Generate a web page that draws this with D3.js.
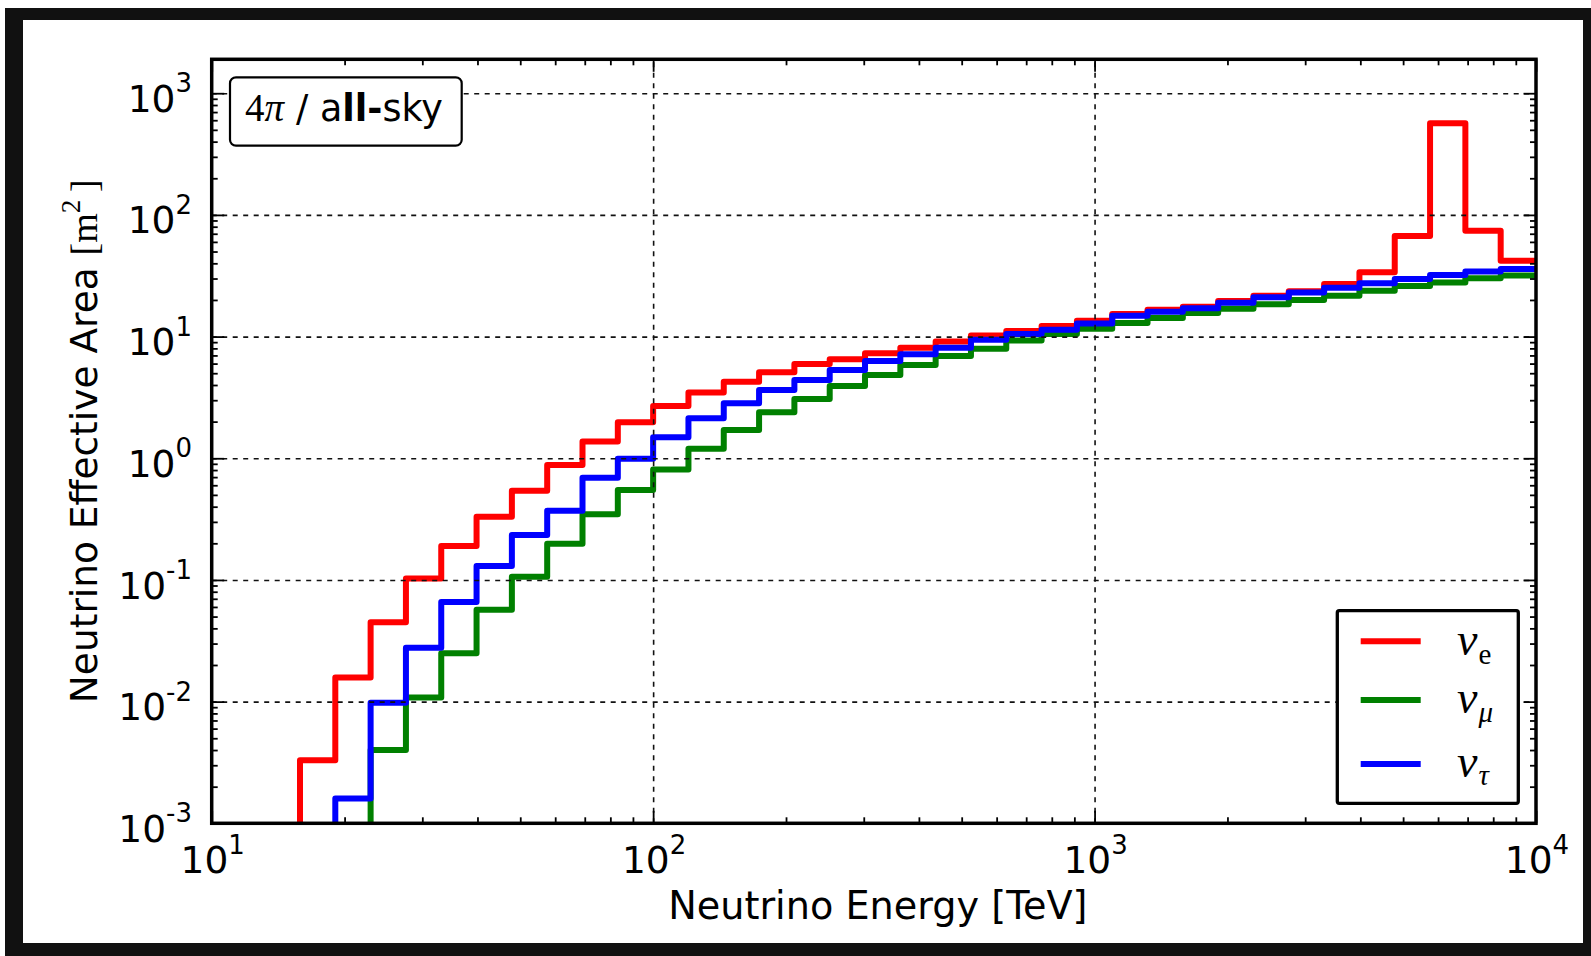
<!DOCTYPE html>
<html>
<head>
<meta charset="utf-8">
<script src="https://cdn.jsdelivr.net/npm/d3@7"></script>
<style>
  html, body { margin: 0; padding: 0; background: #fff; }
  svg { display: block; }
</style>
</head>
<body>
<svg id="chart" width="1591" height="956"></svg>
<script>
// Energy bin edges as log10(E / TeV)
const binEdgesLog10 = [1.20, 1.28, 1.36, 1.44, 1.52, 1.60, 1.68, 1.76, 1.84, 1.92,
                       2.00, 2.08, 2.16, 2.24, 2.32, 2.40, 2.48, 2.56, 2.64, 2.72,
                       2.80, 2.88, 2.96, 3.04, 3.12, 3.20, 3.28, 3.36, 3.44, 3.52,
                       3.60, 3.68, 3.76, 3.84, 3.92, 4.00];

// Effective area per bin [m^2]; null = below the plotted range
const areaNuE = [0.0033, 0.0158, 0.045, 0.103, 0.19, 0.33, 0.54, 0.88, 1.37, 1.98,
                 2.69, 3.47, 4.26, 5.09, 5.96, 6.51, 7.3, 8.1, 9.1, 10.2,
                 11.1, 12.2, 13.5, 15.3, 16.6, 17.6, 19.6, 21.7, 23.6, 27.1,
                 33.8, 67, 567, 74, 42];
const areaNuMu = [null, null, 0.0040, 0.0108, 0.025, 0.057, 0.106, 0.198, 0.347, 0.548,
                  0.81, 1.20, 1.71, 2.39, 3.07, 3.93, 4.84, 5.85, 6.93, 7.96,
                  9.27, 10.5, 11.6, 12.9, 14.2, 15.6, 16.9, 18.4, 20.0, 21.7,
                  23.8, 26.1, 27.8, 30.1, 31.8];
const areaNuTau = [null, 0.0016, 0.0098, 0.0277, 0.066, 0.130, 0.234, 0.371, 0.69, 0.99,
                   1.49, 2.13, 2.83, 3.64, 4.40, 5.32, 6.3, 7.16, 8.1, 9.4,
                   10.5, 11.4, 12.8, 14.8, 16.0, 17.1, 19.0, 21.0, 23.0, 25.2,
                   27.4, 29.8, 32.1, 34.2, 36.0];

const flavourSubscripts = ["e", "μ", "τ"];
const xTickExponents = [1, 2, 3, 4];
const yTickExponents = [-3, -2, -1, 0, 1, 2, 3];
const xAxisTitle = "Neutrino Energy [TeV]";
const yAxisTitle = "Neutrino Effective Area ";
const regionLabel = ["4", "π", "/ a", "ll-", "sky"];

// ---- styling / layout ----
const colors = ["#ff0000", "#008000", "#0000ff"];
const SANS = "'DejaVu Sans', sans-serif";
const SERIF = "'Liberation Serif', 'DejaVu Serif', serif";
const L = 211.7, R = 1536, T = 59.3, B = 823.3;

const svg = d3.select("#chart");

// page background and dark frame
svg.append("rect").attr("width", 1591).attr("height", 956).attr("fill", "#fff");
svg.append("path")
  .attr("d", "M5,8H1591V956H5Z M23,20V943H1583V20Z")
  .attr("fill", "#111").attr("fill-rule", "evenodd");

const x = d3.scaleLog().domain([10, 1e4]).range([L, R]);
const y = d3.scaleLog().domain([1e-3, 1.9e3]).range([B, T]);

svg.append("defs").append("clipPath").attr("id", "plotClip")
  .append("rect").attr("x", L).attr("y", T).attr("width", R - L).attr("height", B - T);

// ---- step histograms ----
const edges = binEdgesLog10.map(e => Math.pow(10, e));
function stepPoints(vals) {
  const first = vals.findIndex(v => v != null);
  const pts = [[edges[first], y.domain()[0]]];
  for (let i = first; i < vals.length; i++) pts.push([edges[i], vals[i]]);
  pts.push([edges[vals.length], vals[vals.length - 1]]);
  return pts;
}
const stepLine = d3.line().x(d => x(d[0])).y(d => y(d[1])).curve(d3.curveStepAfter);

const lines = svg.append("g").attr("clip-path", "url(#plotClip)");
[areaNuE, areaNuMu, areaNuTau].forEach((vals, i) => {
  lines.append("path")
    .attr("d", stepLine(stepPoints(vals)))
    .attr("fill", "none")
    .attr("stroke", colors[i])
    .attr("stroke-width", 6)
    .attr("stroke-linejoin", "round");
});

// ---- grid (drawn above the curves) ----
const xMajor = xTickExponents.map(e => Math.pow(10, e));
const yMajor = yTickExponents.map(e => Math.pow(10, e));
const gridX = xMajor.filter(v => v > x.domain()[0] && v < x.domain()[1]);
const gridY = yMajor.filter(v => v > y.domain()[0] && v < y.domain()[1]);

const gx = svg.append("g").attr("transform", `translate(0,${B})`)
  .call(d3.axisBottom(x).tickValues(gridX).tickSize(-(B - T)).tickFormat(""));
const gy = svg.append("g").attr("transform", `translate(${L},0)`)
  .call(d3.axisLeft(y).tickValues(gridY).tickSize(-(R - L)).tickFormat(""));
[gx, gy].forEach(g => {
  g.select(".domain").remove();
  g.selectAll("line").attr("stroke", "#111").attr("stroke-width", 1.6)
    .attr("stroke-dasharray", "5,5.5");
});

// ---- ticks on all four sides, pointing inward ----
function minorTicks(lo, hi) {
  const out = [];
  for (let d = lo; d < hi; d++) for (let m = 2; m <= 9; m++) out.push(m * Math.pow(10, d));
  return out;
}
const xMinor = minorTicks(1, 4);
const yMinor = minorTicks(-3, 4).filter(v => v < y.domain()[1]);

function tickGroup(axisFn, scale, values, size, transform) {
  const g = svg.append("g").attr("transform", transform)
    .call(axisFn(scale).tickValues(values).tickSize(-size).tickFormat(""));
  g.select(".domain").remove();
  g.selectAll("line").attr("stroke", "#000").attr("stroke-width", 1.8);
}
tickGroup(d3.axisBottom, x, xMajor, 12.5, `translate(0,${B})`);
tickGroup(d3.axisBottom, x, xMinor, 6, `translate(0,${B})`);
tickGroup(d3.axisTop, x, xMajor, 12.5, `translate(0,${T})`);
tickGroup(d3.axisTop, x, xMinor, 6, `translate(0,${T})`);
tickGroup(d3.axisLeft, y, yMajor, 12.5, `translate(${L},0)`);
tickGroup(d3.axisLeft, y, yMinor, 6, `translate(${L},0)`);
tickGroup(d3.axisRight, y, yMajor, 12.5, `translate(${R},0)`);
tickGroup(d3.axisRight, y, yMinor, 6, `translate(${R},0)`);

// axes frame
svg.append("rect").attr("x", L).attr("y", T).attr("width", R - L).attr("height", B - T)
  .attr("fill", "none").attr("stroke", "#000").attr("stroke-width", 3.5);

// ---- tick labels: 10^n ----
function powerLabel(sel, exp) {
  sel.append("tspan").text("10");
  sel.append("tspan").attr("dy", -19.5).attr("font-size", 26).text(String(exp));
}
xTickExponents.forEach(e => {
  const t = svg.append("text")
    .attr("x", x(Math.pow(10, e)) + 1).attr("y", 873.3)
    .attr("text-anchor", "middle")
    .attr("font-family", SANS).attr("font-size", 37.5).attr("fill", "#000");
  powerLabel(t, e);
});
yTickExponents.forEach(e => {
  const t = svg.append("text")
    .attr("x", 192).attr("y", y(Math.pow(10, e)) + 18.6)
    .attr("text-anchor", "end")
    .attr("font-family", SANS).attr("font-size", 37.5).attr("fill", "#000");
  powerLabel(t, e);
});

// ---- axis titles ----
svg.append("text")
  .attr("x", (L + R) / 2 + 4).attr("y", 919.3)
  .attr("text-anchor", "middle")
  .attr("font-family", SANS).attr("font-size", 38.2).attr("fill", "#000")
  .text(xAxisTitle);

const yt = svg.append("text")
  .attr("transform", `translate(97,${(T + B) / 2}) rotate(-90)`)
  .attr("text-anchor", "middle")
  .attr("font-family", SANS).attr("font-size", 37.5).attr("fill", "#000");
yt.append("tspan").text(yAxisTitle);
yt.append("tspan").attr("font-family", SERIF).attr("font-size", 38).text("[m");
yt.append("tspan").attr("font-family", SERIF).attr("font-size", 27).attr("dy", -17).text("2");
yt.append("tspan").attr("font-family", SERIF).attr("font-size", 38).attr("dy", 17).text("\u2009]");

// ---- region label box ----
svg.append("rect").attr("x", 230).attr("y", 77.3).attr("width", 231.7).attr("height", 68.4)
  .attr("rx", 6).attr("fill", "#fff").attr("stroke", "#000").attr("stroke-width", 2.2);
const rl = svg.append("text").attr("x", 245).attr("y", 121)
  .attr("font-size", 36.5).attr("fill", "#000");
rl.append("tspan").attr("font-family", SERIF).attr("font-size", 39).text(regionLabel[0]);
rl.append("tspan").attr("font-family", SERIF).attr("font-size", 39).attr("font-style", "italic").text(regionLabel[1]);
rl.append("tspan").attr("x", 296).attr("font-family", SANS).text(regionLabel[2]);
rl.append("tspan").attr("font-family", SANS).attr("font-weight", "bold").text(regionLabel[3]);
rl.append("tspan").attr("font-family", SANS).text(regionLabel[4]);

// ---- legend ----
svg.append("rect").attr("x", 1337.3).attr("y", 610.7).attr("width", 181).attr("height", 192.6)
  .attr("rx", 2).attr("fill", "#fff").attr("stroke", "#000").attr("stroke-width", 3.3);
const legendLineY = [641.3, 700, 764];
const legendTextY = [655, 713.3, 777.3];
const subShift = [9, 9, 8];
flavourSubscripts.forEach((s, i) => {
  svg.append("line")
    .attr("x1", 1360.7).attr("x2", 1420.7)
    .attr("y1", legendLineY[i]).attr("y2", legendLineY[i])
    .attr("stroke", colors[i]).attr("stroke-width", 6);
  const t = svg.append("text").attr("x", 1457).attr("y", legendTextY[i])
    .attr("font-family", SERIF).attr("font-size", 46).attr("font-style", "italic")
    .attr("fill", "#000");
  t.append("tspan").text("ν");
  t.append("tspan").attr("dx", 1).attr("dy", subShift[i]).attr("font-size", 29)
    .attr("font-style", i === 0 ? "normal" : "italic").text(s);
});
</script>
</body>
</html>
